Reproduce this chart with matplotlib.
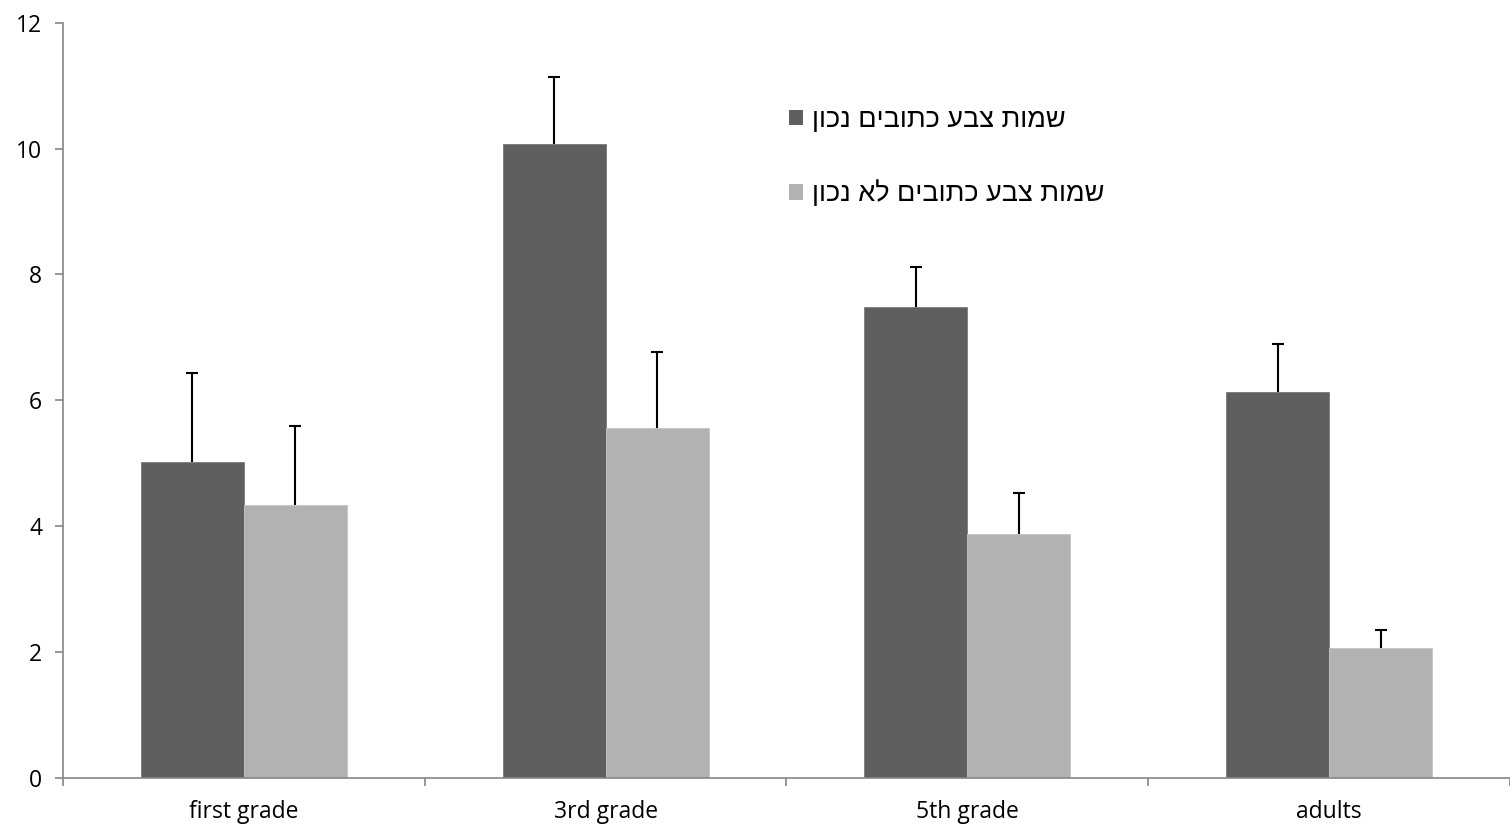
import numpy as np
import matplotlib
matplotlib.use("Agg")
import matplotlib.pyplot as plt
from matplotlib.patches import Patch

# data
groups = ["first grade", "3rd grade", "5th grade", "adults"]
correct_mean = [5.02, 10.08, 7.49, 6.14]
correct_err = [1.42, 1.06, 0.63, 0.76]
incorrect_mean = [4.34, 5.56, 3.88, 2.07]
incorrect_err = [1.25, 1.21, 0.65, 0.28]
series_labels = ["שמות צבע כתובים נכון", "שמות צבע כתובים לא נכון"]

dark = "#5f5f5f"
light = "#b2b2b2"
axis_grey = "#868686"
tick_font = ["Open Sans", "DejaVu Sans"]

fig = plt.figure(figsize=(15.1, 8.26), dpi=100)
ax = fig.add_axes([0.0417, 0.0581, 0.9583, 0.9144])

x = np.arange(len(groups))
w = 0.285

ax.bar(x - w / 2, correct_mean, w, color=dark, edgecolor="#7a7a7a", linewidth=0.6, zorder=2)
ax.bar(x + w / 2, incorrect_mean, w, color=light, edgecolor="#c4c4c4", linewidth=0.6, zorder=2)

# Excel style: only the upper half of each error bar, no cap at the bar top
for xs, m, e in [(x - w / 2, correct_mean, correct_err), (x + w / 2, incorrect_mean, incorrect_err)]:
    _, caps, _ = ax.errorbar(xs, m, yerr=[np.zeros(len(e)), e], fmt="none",
                             ecolor="black", elinewidth=1.5, capsize=4.3, capthick=1.5, zorder=3)
    caps[0].set_visible(False)

ax.set_xlim(-0.5, len(groups) - 0.5)
ax.set_ylim(0, 12)
ax.set_yticks(range(0, 13, 2))

# category labels centred, ticks on the boundaries
ax.set_xticks(np.arange(-0.5, len(groups), 1.0))
ax.set_xticklabels([])
ax.set_xticks(x, minor=True)
ax.set_xticklabels(groups, minor=True, fontsize=16.5, family=tick_font)
ax.tick_params(axis="x", which="minor", length=0, pad=16)
ax.tick_params(axis="x", which="major", length=6, width=1.2, color=axis_grey, direction="out")
ax.tick_params(axis="y", length=6, width=1.2, color=axis_grey, direction="out", pad=9, labelsize=16.5)
for lab in ax.get_yticklabels():
    lab.set_family(tick_font)

for side in ["top", "right"]:
    ax.spines[side].set_visible(False)
for side in ["left", "bottom"]:
    ax.spines[side].set_color(axis_grey)
    ax.spines[side].set_linewidth(1.2)

# matplotlib has no bidi support: reverse Hebrew for visual order
handles = [Patch(facecolor=dark), Patch(facecolor=light)]
leg = ax.legend(handles, [s[::-1] for s in series_labels], loc="upper left",
                bbox_to_anchor=(0.502, 0.888), frameon=False, borderpad=0, borderaxespad=0,
                handlelength=0.5, handleheight=0.5, handletextpad=0.35, labelspacing=1.75,
                prop={"family": ["Liberation Sans", "DejaVu Sans"], "size": 19.5})

fig.savefig("out.png", dpi=100)
